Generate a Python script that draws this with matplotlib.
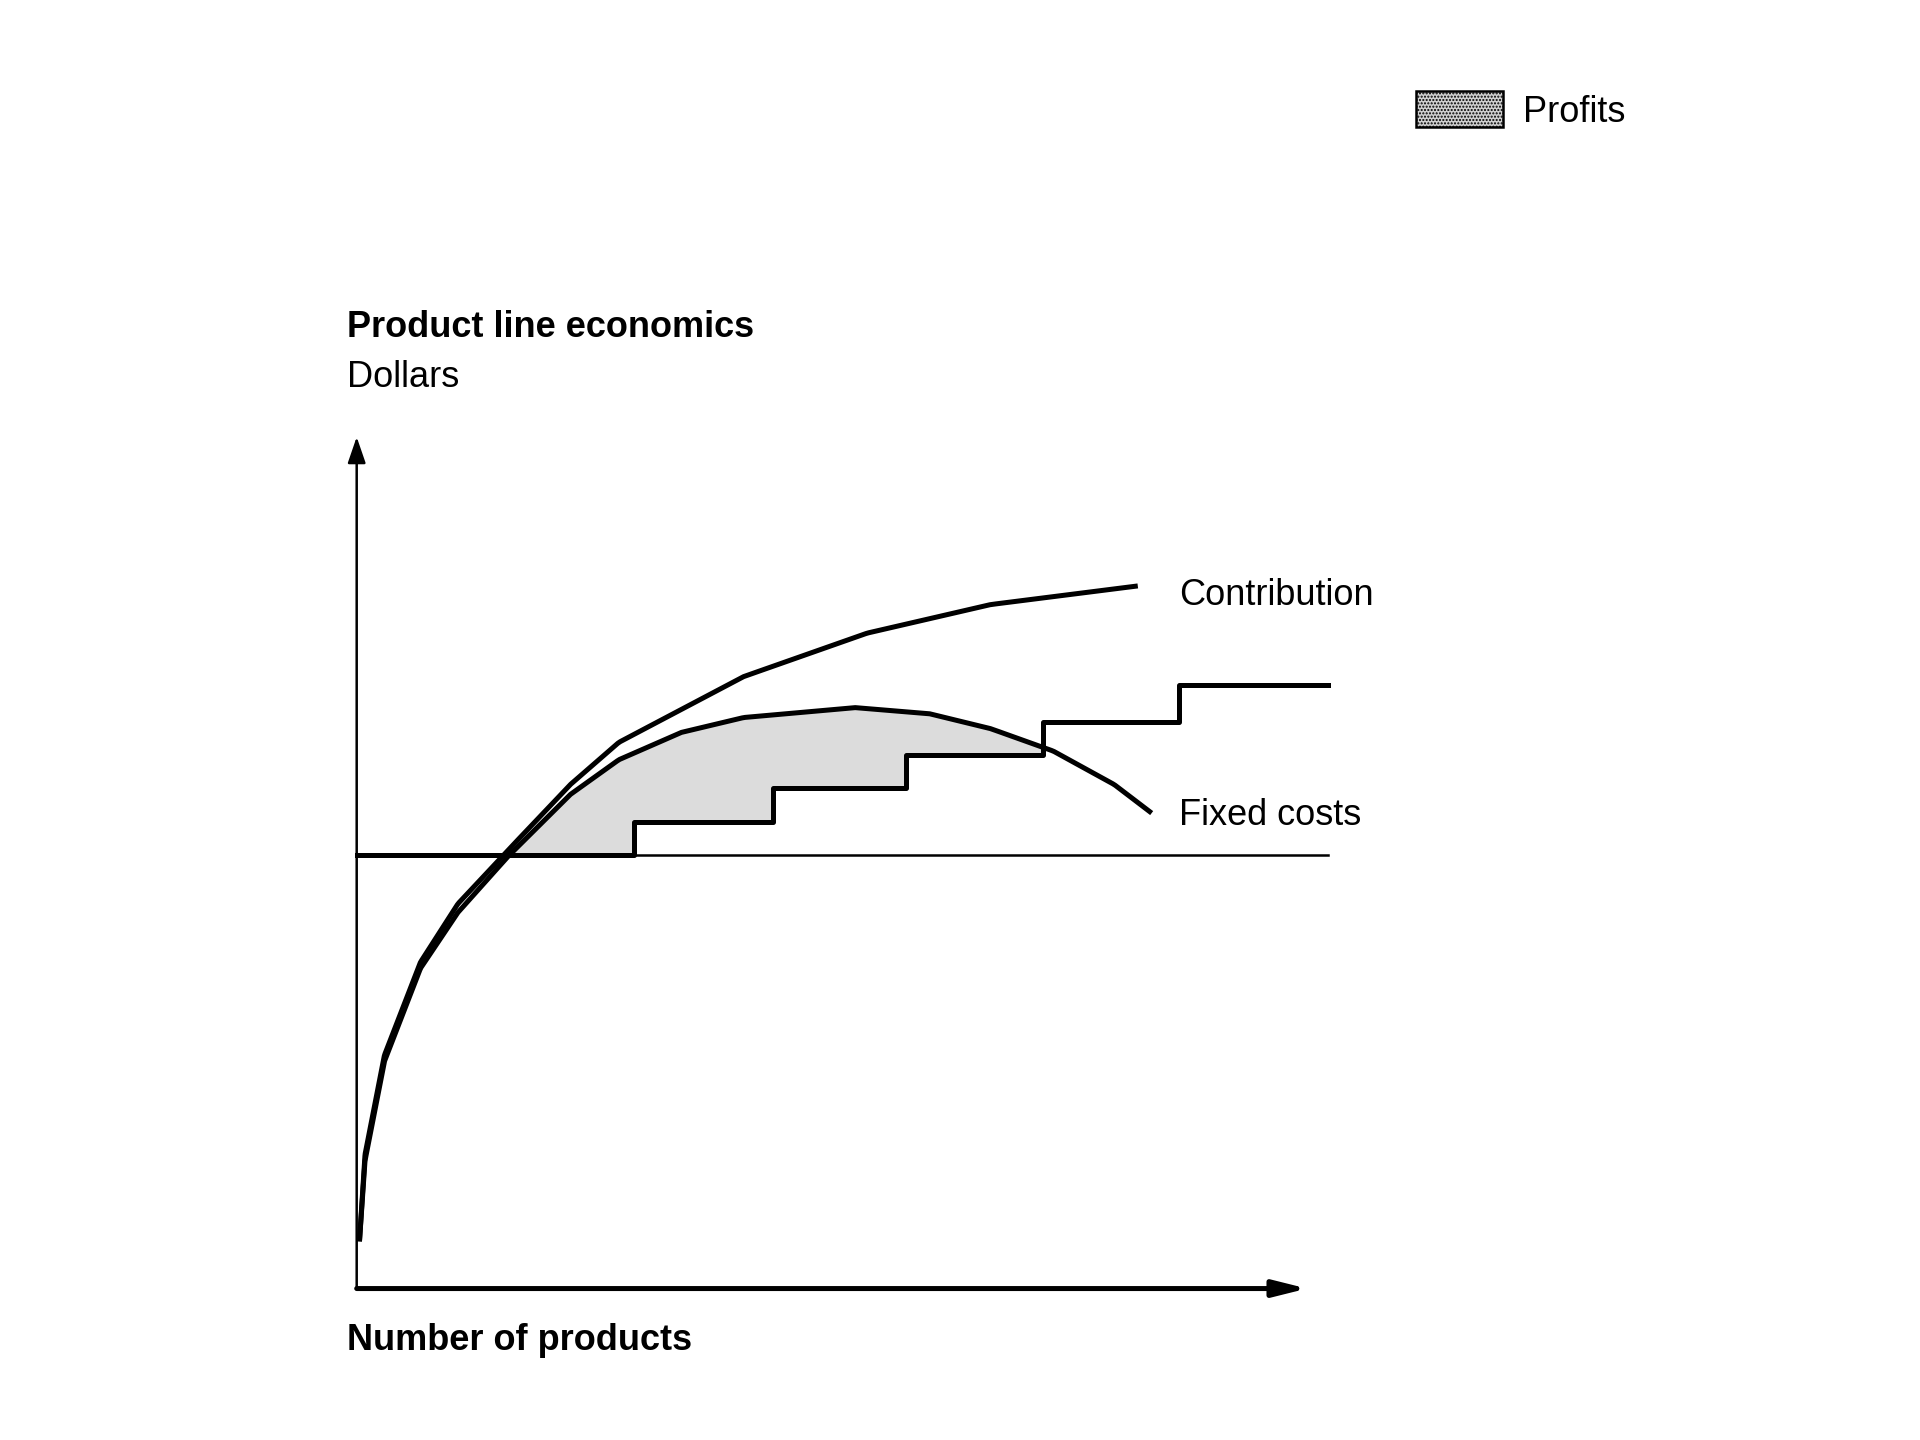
import numpy as np
import matplotlib
matplotlib.use("Agg")
import matplotlib.pyplot as plt
from matplotlib.patches import Rectangle

contrib_x = [0.02,0.06,0.2,0.46,0.73,1.09,1.54,1.89,2.79,3.68,4.57,5.63]
contrib_y = [0.38,1.08,1.88,2.63,3.10,3.53,4.06,4.40,4.93,5.28,5.51,5.66]
hump_x = [0.02,0.06,0.2,0.46,0.73,1.09,1.54,1.89,2.34,2.79,3.59,4.13,4.57,5.02,5.46,5.73]
hump_y = [0.38,1.03,1.83,2.58,3.03,3.48,3.98,4.26,4.48,4.60,4.68,4.63,4.51,4.33,4.06,3.83]
step_edges = [0, 2.0, 3.0, 3.96, 4.95, 5.93, 7.0]
step_levels = [3.49, 3.76, 4.03, 4.30, 4.56, 4.86]
baseline = 3.49

plt.rcParams['font.family'] = ['Liberation Sans', 'DejaVu Sans']
fig = plt.figure(figsize=(19.2, 14.4), dpi=100)
ax = fig.add_axes([0, 0, 1, 1])
ax.set_xlim(-2.571, 11.268)
ax.set_ylim(-1.22, 10.38)
ax.axis('off')

def smooth(xs, ys, n=400):
    xs = np.asarray(xs); ys = np.asarray(ys)
    t = np.concatenate([[0], np.cumsum(np.hypot(np.diff(xs), np.diff(ys)))])
    tt = np.linspace(0, t[-1], n)
    return np.interp(tt, t, xs), np.interp(tt, t, ys)

cx, cy = smooth(contrib_x, contrib_y)
hx, hy = smooth(hump_x, hump_y)

# profits fill
g = np.linspace(hump_x[0], hump_x[-1], 1500)
hg = np.interp(g, hump_x, hump_y)
idx = np.clip(np.searchsorted(step_edges, g, side='right') - 1, 0, len(step_levels) - 1)
sg = np.array(step_levels)[idx]
ax.fill_between(g, sg, hg, where=hg > sg, color='#dcdcdc', lw=0, zorder=1)

ax.plot([0, step_edges[-1]], [baseline, baseline], color='black', lw=1.8, zorder=2)
sx, sy = [], []
for i, lv in enumerate(step_levels):
    sx += [step_edges[i], step_edges[i + 1]]
    sy += [lv, lv]
ax.plot(sx, sy, color='black', lw=3.6, zorder=3)
ax.plot(cx, cy, color='black', lw=3.6, zorder=3, solid_capstyle='butt')
ax.plot(hx, hy, color='black', lw=3.6, zorder=3, solid_capstyle='butt')

# axes arrows
ax.annotate('', xy=(0, 6.86), xytext=(0, 0),
            arrowprops=dict(arrowstyle='-|>,head_length=1.6,head_width=0.55', lw=1.8, color='black', shrinkA=0, shrinkB=0))
ax.annotate('', xy=(6.85, 0), xytext=(0, 0),
            arrowprops=dict(arrowstyle='-|>,head_length=2.0,head_width=0.5', lw=3.6, color='black', shrinkA=0, shrinkB=0))

fs = 26
ax.text(-0.07, 7.74, 'Product line economics', fontsize=fs, fontweight='bold', va='center')
ax.text(-0.07, 7.34, 'Dollars', fontsize=fs, va='center')
ax.text(-0.07, -0.42, 'Number of products', fontsize=fs, fontweight='bold', va='center')
ax.text(5.93, 5.58, 'Contribution', fontsize=fs, va='center')
ax.text(5.93, 3.81, 'Fixed costs', fontsize=fs, va='center')

# legend
ax.add_patch(Rectangle((7.634, 9.36), 0.625, 0.29, facecolor='#d0d0d0', edgecolor='black',
                       hatch='.....', lw=1.8))
ax.text(8.41, 9.47, 'Profits', fontsize=fs, va='center')

fig.savefig('out.png', dpi=100)
